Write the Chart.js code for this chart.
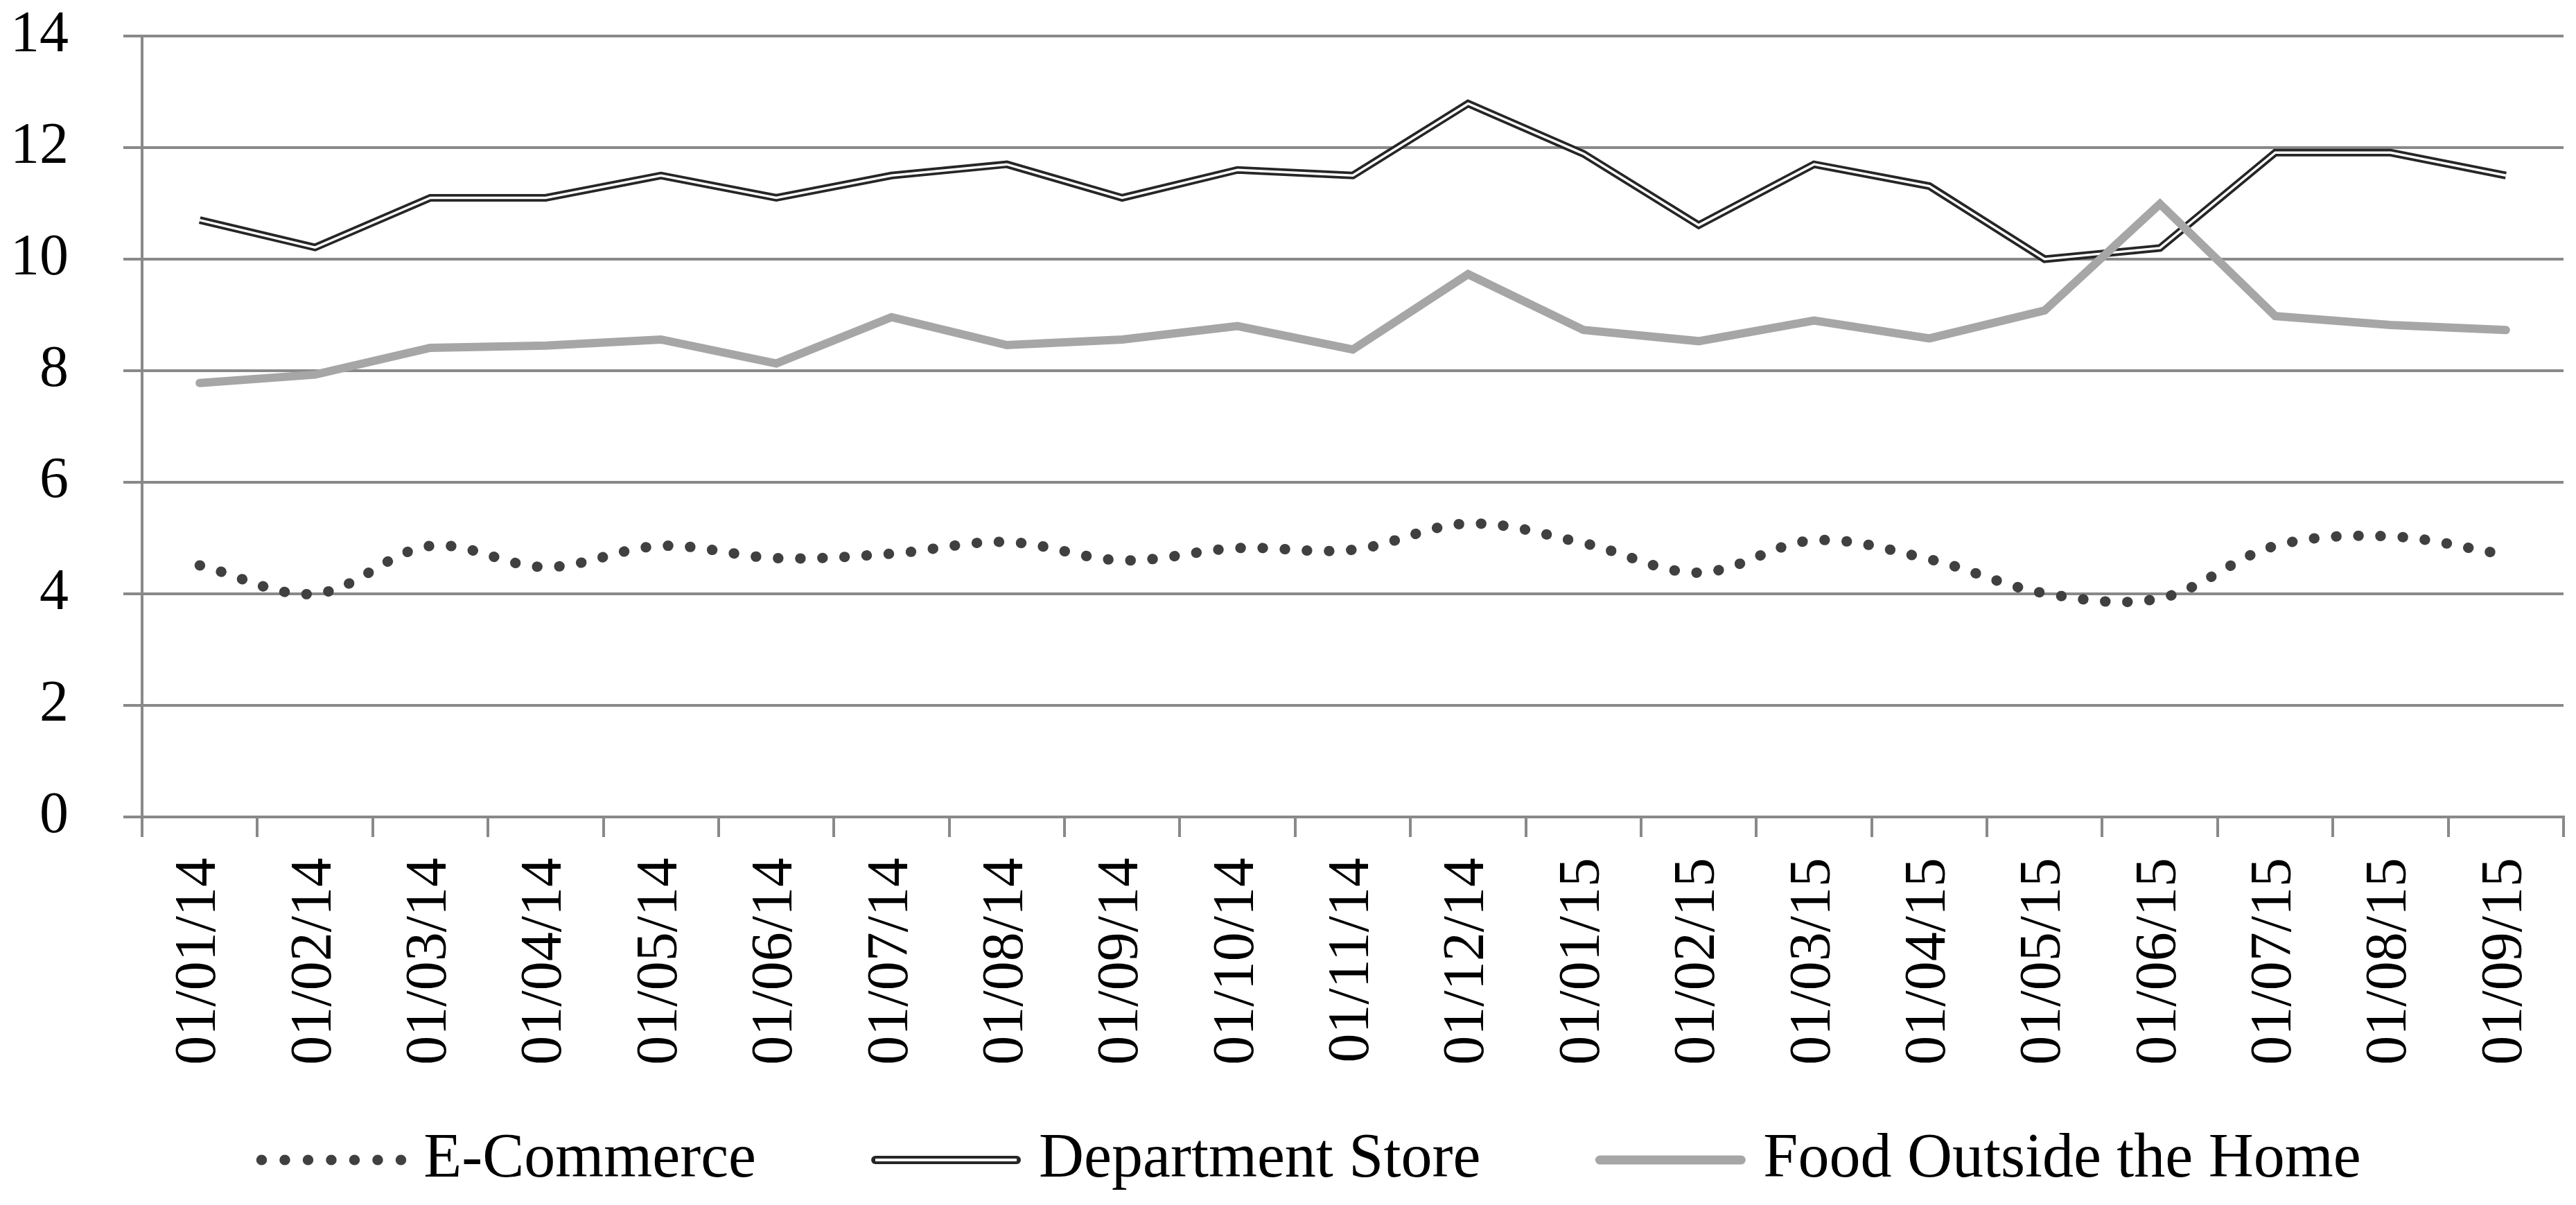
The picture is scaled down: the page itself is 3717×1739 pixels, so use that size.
<!DOCTYPE html>
<html>
<head>
<meta charset="utf-8">
<script src="https://cdn.jsdelivr.net/npm/chart.js@4.4.1/dist/chart.umd.min.js"></script>
<style>
  html, body { margin: 0; padding: 0; background: #fff; }
  #wrap { width: 3717px; height: 1739px; }
</style>
</head>
<body>
<div id="wrap"><canvas id="chart" width="3717" height="1739"></canvas></div>
<script>
// categories (dd/mm/yy)
const months = [
    '01/01/14', '01/02/14', '01/03/14', '01/04/14', '01/05/14', '01/06/14', '01/07/14',
    '01/08/14', '01/09/14', '01/10/14', '01/11/14', '01/12/14', '01/01/15', '01/02/15',
    '01/03/15', '01/04/15', '01/05/15', '01/06/15', '01/07/15', '01/08/15', '01/09/15'
];

// series
const eCommerce = [4.51, 4.00, 4.86, 4.48, 4.86, 4.64, 4.72, 4.93, 4.60, 4.82, 4.79, 5.26, 4.91, 4.38, 4.96, 4.62, 4.01, 3.92, 4.86, 5.03, 4.70];
const departmentStore = [10.70, 10.21, 11.10, 11.10, 11.50, 11.10, 11.50, 11.70, 11.10, 11.60, 11.50, 12.79, 11.89, 10.61, 11.70, 11.31, 10.00, 10.20, 11.91, 11.91, 11.50];
const foodOutside = [7.78, 7.93, 8.41, 8.45, 8.56, 8.13, 8.96, 8.46, 8.56, 8.80, 8.38, 9.73, 8.73, 8.53, 8.90, 8.58, 9.08, 10.99, 8.98, 8.82, 8.73];

const legendNames = ['E-Commerce', 'Department Store', 'Food Outside the Home'];
const yTicks = [0, 2, 4, 6, 8, 10, 12, 14];

const gridColor = '#898989';
const fontFamily = '"Liberation Serif", "DejaVu Serif", serif';

// 图例自己画 (双线样式 Chart.js 图例画不出来)
const sketchLegend = {
    id: 'sketchLegend',
    afterDraw(chart) {
        const ctx = chart.ctx;
        const sampleLen = 216;
        const gap = 26;
        const itemGap = 166;
        const cy = 1674;

        ctx.save();
        ctx.font = '90px ' + fontFamily;
        const widths = legendNames.map(t => ctx.measureText(t).width);
        const total = widths.reduce((s, w) => s + w, 0) + legendNames.length * (sampleLen + gap) + (legendNames.length - 1) * itemGap;
        let x = 1888 - total / 2;

        legendNames.forEach((name, i) => {
            ctx.save();
            ctx.beginPath();
            if (i === 0) {
                ctx.strokeStyle = '#404040';
                ctx.lineWidth = 15;
                ctx.lineCap = 'round';
                ctx.setLineDash([0.5, 33]);
                ctx.moveTo(x + 8, cy);
                ctx.lineTo(x + sampleLen, cy);
                ctx.stroke();
            } else if (i === 1) {
                ctx.strokeStyle = '#262626';
                ctx.lineWidth = 12;
                ctx.lineCap = 'round';
                ctx.moveTo(x + 6, cy);
                ctx.lineTo(x + sampleLen - 6, cy);
                ctx.stroke();
                ctx.beginPath();
                ctx.strokeStyle = '#ffffff';
                ctx.lineWidth = 4;
                ctx.lineCap = 'butt';
                ctx.moveTo(x + 6, cy);
                ctx.lineTo(x + sampleLen - 6, cy);
                ctx.stroke();
            } else {
                ctx.strokeStyle = '#a6a6a6';
                ctx.lineWidth = 13;
                ctx.lineCap = 'round';
                ctx.moveTo(x + 6, cy);
                ctx.lineTo(x + sampleLen - 6, cy);
                ctx.stroke();
            }
            ctx.restore();

            ctx.fillStyle = '#000000';
            ctx.textBaseline = 'alphabetic';
            ctx.textAlign = 'left';
            ctx.fillText(name, x + sampleLen + gap, 1698);
            x += sampleLen + gap + widths[i] + itemGap;
        });
        ctx.restore();
    }
};

const ctx = document.getElementById('chart').getContext('2d');
const chart = new Chart(ctx, {
    type: 'line',
    data: {
        labels: months,
        datasets: [
            {
                label: legendNames[0],
                data: eCommerce,
                borderColor: '#404040',
                borderWidth: 15,
                borderCapStyle: 'round',
                borderDash: [0.5, 31.5],
                tension: 0.35,
                pointRadius: 0,
                fill: false,
                order: 3
            },
            {
                label: legendNames[1],
                data: departmentStore,
                borderColor: '#262626',
                borderWidth: 11,
                borderCapStyle: 'butt',
                borderJoinStyle: 'miter',
                tension: 0,
                pointRadius: 0,
                fill: false,
                order: 2
            },
            {
                // 白色内线，做出双线效果
                label: 'inner',
                data: departmentStore,
                borderColor: '#ffffff',
                borderWidth: 3.5,
                borderJoinStyle: 'miter',
                tension: 0,
                pointRadius: 0,
                fill: false,
                order: 1
            },
            {
                label: legendNames[2],
                data: foodOutside,
                borderColor: '#a6a6a6',
                borderWidth: 12,
                borderCapStyle: 'round',
                borderJoinStyle: 'miter',
                tension: 0,
                pointRadius: 0,
                fill: false,
                order: 0
            }
        ]
    },
    options: {
        responsive: false,
        devicePixelRatio: 1,
        animation: false,
        layout: {
            padding: { left: 0, top: 52, right: 18, bottom: 179 }
        },
        plugins: {
            legend: { display: false },
            tooltip: { enabled: false },
            title: { display: false }
        },
        scales: {
            x: {
                offset: true,
                grid: {
                    offset: true,
                    drawOnChartArea: false,
                    drawTicks: true,
                    tickLength: 29,
                    color: gridColor,
                    lineWidth: 4
                },
                border: { display: true, color: gridColor, width: 4 },
                ticks: {
                    autoSkip: false,
                    maxRotation: 90,
                    minRotation: 90,
                    padding: 30,
                    color: '#000000',
                    font: { family: fontFamily, size: 84 }
                },
                afterFit(scale) {
                    scale.height = 381;
                    scale.paddingLeft = 0;
                    scale.paddingRight = 0;
                }
            },
            y: {
                min: 0,
                max: 14,
                afterBuildTicks(scale) {
                    scale.ticks = yTicks.map(v => ({ value: v }));
                },
                grid: {
                    color: gridColor,
                    lineWidth: 4,
                    tickLength: 27
                },
                border: { display: true, color: gridColor, width: 4 },
                ticks: {
                    padding: 79,
                    color: '#000000',
                    font: { family: fontFamily, size: 84 }
                },
                afterFit(scale) {
                    scale.width = 205;
                    // 不让 tick padding 把图区往下推
                    scale.paddingTop = 0;
                    scale.paddingBottom = 0;
                }
            }
        }
    },
    plugins: [sketchLegend]
});
</script>
</body>
</html>
